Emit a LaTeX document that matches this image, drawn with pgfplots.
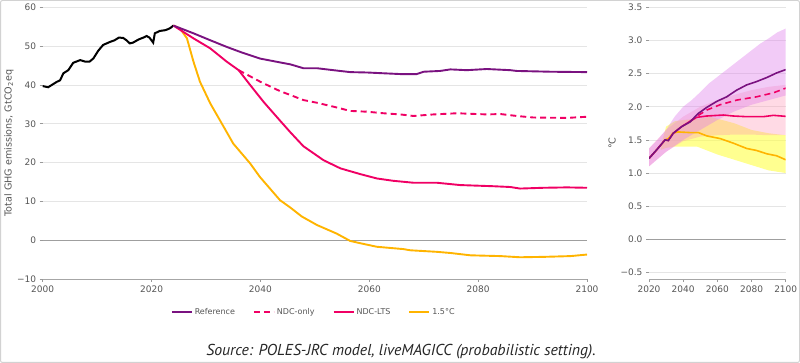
\documentclass[border=0pt]{standalone}
\usepackage{pgfplots}
\pgfplotsset{compat=1.18}
\usepackage{fontspec}
\setmainfont{DejaVu Sans}
\newfontfamily\srcfont{PT Sans}
\definecolor{cref}{RGB}{122,18,128}
\definecolor{cpink}{RGB}{240,0,100}
\definecolor{corange}{RGB}{255,180,0}
\definecolor{bviolet}{RGB}{222,125,235}
\definecolor{bpink}{RGB}{255,150,180}
\definecolor{byellow}{RGB}{255,255,70}
\definecolor{tickgray}{RGB}{85,85,85}
\pgfplotsset{
  common/.style={
    scale only axis,
    axis x line*=bottom, axis y line*=left,
    y axis line style={draw=none},
    x axis line style={draw=gray!70, line width=0.6pt},
    tick align=outside, major tick length=3pt,
    tick style={gray!80, line width=0.5pt},
    ymajorgrids, grid style={gray!20, line width=0.7pt},
    ticklabel style={font=\fontsize{9}{10}\selectfont, text=tickgray},
    /pgf/number format/assume math mode=true,
    label style={font=\fontsize{9.6}{11}\selectfont, text=tickgray},
    clip=true,
  },
}
\begin{document}
\begin{tikzpicture}
\useasboundingbox (0,0) rectangle (800pt,363pt);
\draw[gray!35, line width=1pt, rounded corners=2pt] (0.5pt,0.5pt) rectangle (799.5pt,362.5pt);
\begin{axis}[common,
  at={(42.7pt,84pt)}, anchor=south west,
  width=544.3pt, height=271.7pt,
  xmin=2000, xmax=2100, ymin=-10, ymax=60,
  xtick={2000,2020,...,2100},
  xticklabel style={/pgf/number format/1000 sep={}},
  ytick={-10,0,...,60},
  yticklabels={−10,0,10,20,30,40,50,60},
  ylabel={Total GHG emissions, GtCO\textsubscript{2}eq},
  ylabel style={at={(axis description cs:-0.062,0.5)}, anchor=center},
  legend style={at={(0.498,-0.121)}, anchor=center, draw=none,
    font=\fontsize{8}{9}\selectfont, text=tickgray,
    /tikz/every even column/.append style={column sep=16pt}},
  legend columns=4,
  legend image code/.code={\draw[#1] (0pt,0pt) -- (20pt,0pt);},
]
\addplot[gray!75, line width=0.8pt, forget plot] coordinates {(2000,0) (2100,0)};
\addplot[black, line width=2pt, forget plot] coordinates {
(2000,39.7) (2001,39.4) (2002.6,40.8) (2003.2,41.2) (2003.8,43.0) (2004.7,43.8)
(2005.6,45.7) (2006.9,46.4) (2007.8,46.0) (2008.6,46.0) (2009.3,46.8) (2010.2,48.8)
(2011.1,50.3) (2012.4,51.1) (2013.2,51.5) (2014,52.2) (2014.8,52.1) (2015.4,51.5)
(2016,50.7) (2016.6,50.9) (2017.6,51.7) (2018.5,52.2) (2019.1,52.6) (2019.6,52.2)
(2020.3,50.9) (2020.6,53.3) (2021.5,53.9) (2022.5,54.1) (2023.1,54.4) (2023.5,54.7) (2024,55.3)};
\addplot[corange, line width=1.9pt, forget plot] coordinates {
(2024,55.3) (2025.2,54.6) (2026.5,52) (2027.7,46.0) (2028.9,40.8) (2030.8,35.2)
(2033.5,28.6) (2035,24.9) (2038.1,19.8) (2039.9,16.3) (2043.6,10.3) (2045.5,8.4)
(2047.6,6.1) (2050.4,3.9) (2054.0,1.7) (2056.5,-0.2) (2058.4,-0.8) (2061.4,-1.7)
(2066.3,-2.3) (2067.5,-2.6) (2072.4,-3.0) (2074.9,-3.3) (2078.6,-3.9) (2084.1,-4.1)
(2087.7,-4.4) (2092,-4.3) (2097,-4.1) (2100,-3.7)};
\addplot[cpink, line width=1.9pt, dash pattern=on 6pt off 4pt, forget plot] coordinates {
(2036,43.8) (2040,40.8) (2043.6,38.4) (2045.5,37.4) (2047.9,36.1) (2050.4,35.4)
(2053.4,34.4) (2056.5,33.3) (2059.6,33.1) (2062.6,32.7) (2065.7,32.4) (2068.1,32.0)
(2071.8,32.4) (2076.1,32.7) (2081.6,32.4) (2084.1,32.5) (2087.1,32.0) (2090.2,31.6)
(2096.3,31.5) (2100,31.8)};
\addplot[cpink, line width=1.9pt, forget plot] coordinates {
(2024,55.3) (2027.7,52.0) (2030.8,49.4) (2033.8,46.0) (2036,43.8) (2038.1,40)
(2040.6,35.6) (2043.6,30.8) (2045.5,27.8) (2047.9,24.2) (2051.6,20.6) (2054.7,18.5)
(2058.4,17.0) (2061.4,15.9) (2064.4,15.3) (2068.1,14.8) (2072.4,14.8) (2076.7,14.2)
(2082.8,13.9) (2085.9,13.7) (2087.7,13.3) (2092,13.5) (2096.3,13.6) (2100,13.5)};
\addplot[cref, line width=1.9pt, forget plot] coordinates {
(2024,55.3) (2027.7,53.3) (2030.8,51.5) (2033.8,49.8) (2036.3,48.5) (2039.9,46.8)
(2043.6,45.8) (2045.5,45.3) (2047.9,44.3) (2050.4,44.3) (2053.4,43.8) (2056.5,43.3)
(2059.6,43.2) (2062.6,43.0) (2065.7,42.8) (2068.7,42.8) (2070,43.4) (2073,43.6)
(2074.9,44.0) (2077.9,43.8) (2081.6,44.1) (2085.9,43.8) (2087.1,43.6) (2093.3,43.4) (2100,43.3)};
\addlegendimage{cref, line width=1.9pt}
\addlegendentry{Reference}
\addlegendimage{cpink, line width=1.9pt, dash pattern=on 6pt off 4pt}
\addlegendentry{NDC-only}
\addlegendimage{cpink, line width=1.9pt}
\addlegendentry{NDC-LTS}
\addlegendimage{corange, line width=1.9pt}
\addlegendentry{1.5°C}
\end{axis}
\begin{axis}[common,
  at={(649pt,83.9pt)}, anchor=south west,
  width=136.7pt, height=271.8pt,
  xmin=2020, xmax=2100, ymin=-0.6, ymax=3.5,
  xtick={2020,2040,...,2100},
  xticklabel style={/pgf/number format/1000 sep={}},
  ytick={-0.5,0,...,3.5},
  yticklabels={−0.5,0.0,0.5,1.0,1.5,2.0,2.5,3.0,3.5},
  ylabel={°C},
  ylabel style={at={(axis description cs:-0.27,0.5)}, anchor=center},
]
\addplot[gray!75, line width=0.8pt] coordinates {(2020,0) (2100,0)};
% 1.5C band
\addplot[fill=byellow, fill opacity=0.6, draw=none] coordinates {
(2027,1.40) (2030,1.70) (2035,1.78) (2040,1.80) (2050,1.82) (2055,1.85) (2060,1.82)
(2070,1.75) (2080,1.65) (2090,1.60) (2100,1.57)
(2100,1.00) (2090,1.04) (2080,1.12) (2070,1.20) (2060,1.28) (2055,1.33) (2048,1.40)
(2040,1.40) (2035,1.40) (2030,1.38) (2027,1.35)} -- cycle;
% NDC-LTS band
\addplot[fill=bpink, fill opacity=0.35, draw=none] coordinates {
(2020,1.37) (2030,1.65) (2040,1.85) (2050,2.00) (2060,2.10) (2070,2.18) (2080,2.25)
(2090,2.30) (2100,2.33)
(2100,1.57) (2090,1.57) (2080,1.58) (2070,1.58) (2060,1.57) (2050,1.55) (2040,1.48)
(2030,1.32) (2020,1.10)} -- cycle;
% Reference band
\addplot[fill=bviolet, fill opacity=0.4, draw=none] coordinates {
(2020,1.37) (2025,1.50) (2030,1.65) (2035,1.85) (2040,2.00) (2045,2.10) (2050,2.22)
(2055,2.35) (2060,2.45) (2065,2.55) (2070,2.65) (2075,2.75) (2080,2.85) (2085,2.95)
(2090,3.03) (2095,3.12) (2100,3.18)
(2100,2.17) (2090,2.10) (2080,2.03) (2070,1.93) (2060,1.80) (2050,1.65) (2040,1.50)
(2030,1.32) (2020,1.10)} -- cycle;
\addplot[corange, line width=1.6pt] coordinates {
(2020,1.22) (2024.5,1.35) (2029.4,1.50) (2031.3,1.52) (2034,1.60) (2037,1.62)
(2044,1.61) (2048.9,1.61) (2053.8,1.56) (2061.6,1.52) (2069.4,1.45) (2077.2,1.37)
(2083,1.34) (2088.9,1.29) (2094.7,1.26) (2100,1.20)};
\addplot[cpink, line width=1.6pt, dash pattern=on 6pt off 4pt] coordinates {
(2044,1.78) (2048.9,1.87) (2053.8,1.95) (2061.6,2.03) (2071.3,2.10) (2083,2.15)
(2092.8,2.21) (2100,2.28)};
\addplot[cpink, line width=1.6pt] coordinates {
(2020,1.22) (2024.5,1.35) (2029.4,1.50) (2031.3,1.49) (2034.2,1.60) (2039.1,1.70)
(2044,1.78) (2047.9,1.84) (2053.8,1.86) (2063.5,1.875) (2069.4,1.86) (2077.2,1.85)
(2086.9,1.85) (2092.8,1.87) (2100,1.855)};
\addplot[cref, line width=1.6pt] coordinates {
(2020,1.22) (2024.5,1.35) (2029.4,1.50) (2031.3,1.49) (2034.2,1.60) (2039.1,1.70)
(2044,1.77) (2048.9,1.90) (2053.8,1.99) (2059.6,2.08) (2065.5,2.15) (2071.3,2.25)
(2077.2,2.33) (2083,2.38) (2088.9,2.44) (2094.7,2.51) (2100,2.56)};
\end{axis}
\node[font=\srcfont\itshape\fontsize{15.8}{18}\selectfont, text=black!85] at (401pt,11pt) {Source: POLES-JRC model, liveMAGICC (probabilistic setting).};
\end{tikzpicture}
\end{document}
